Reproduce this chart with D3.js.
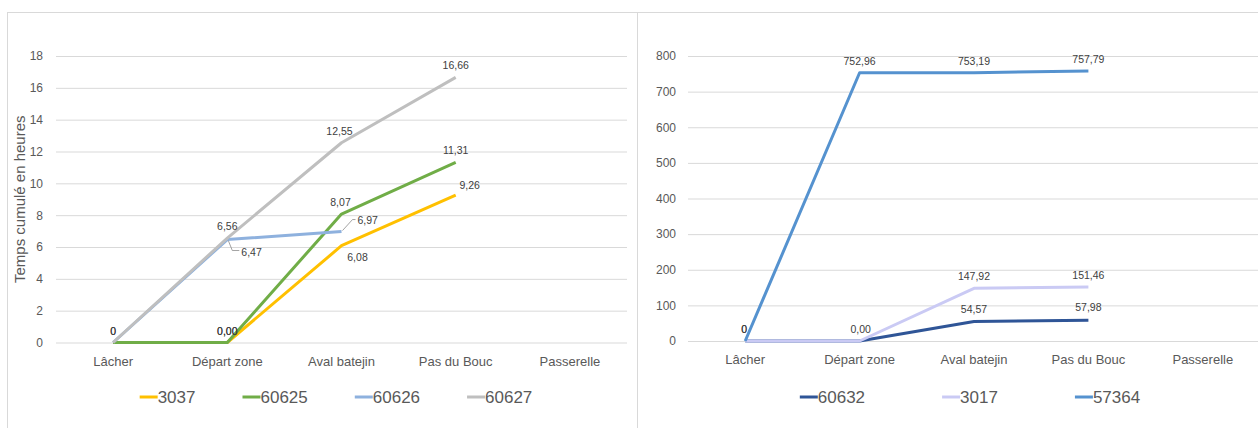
<!DOCTYPE html>
<html>
<head>
<meta charset="utf-8">
<script src="https://cdn.jsdelivr.net/npm/d3@7"></script>
<style>
  html, body { margin: 0; padding: 0; background: #fff; }
  svg { display: block; font-family: "Liberation Sans", "DejaVu Sans", sans-serif; }
</style>
</head>
<body>
<svg id="chart" width="1258" height="428"></svg>
<script>
// ---- data ----
const categories = ["Lâcher", "Départ zone", "Aval batejin", "Pas du Bouc", "Passerelle"];

// left panel: cumulated time (hours)
const leftTicks = [0, 2, 4, 6, 8, 10, 12, 14, 16, 18];
const s3037  = [0, 0, 6.08, 9.26, null];
const s60625 = [0, 0, 8.07, 11.31, null];
const s60626 = [0, 6.47, 6.97, null, null];
const s60627 = [0, 6.56, 12.55, 16.66, null];

// right panel
const rightTicks = [0, 100, 200, 300, 400, 500, 600, 700, 800];
const s60632 = [0, 0, 54.57, 57.98, null];
const s3017  = [0, 0, 147.92, 151.46, null];
const s57364 = [0, 752.96, 753.19, 757.79, null];

const leftSeries = [
  { name: "3037",  values: s3037,  color: "#FFC000" },
  { name: "60625", values: s60625, color: "#70AD47" },
  { name: "60626", values: s60626, color: "#8EB1DE" },
  { name: "60627", values: s60627, color: "#BFBFBF" }
];
const rightSeries = [
  { name: "60632", values: s60632, color: "#2F5597" },
  { name: "3017",  values: s3017,  color: "#CACAF4" },
  { name: "57364", values: s57364, color: "#5592CF" }
];

// which points carry a value label, and where the label sits relative to the point
const leftLabels = [
  { s: "60626", i: 0, fmt: "int", dx: 0, dy: -12 },
  { s: "60627", i: 0, fmt: "int", dx: 0, dy: -12 },
  { s: "3037",  i: 1, fmt: "dec", dx: 0, dy: -12 },
  { s: "60625", i: 1, fmt: "dec", dx: 0, dy: -12 },
  { s: "60627", i: 1, fmt: "dec", dx: 0, dy: -12 },
  { s: "60626", i: 1, fmt: "dec", dx: 14, dy: 12, anchor: "start",
    leader: [[1, 1], [5, 11], [12, 11]] },
  { s: "60627", i: 2, fmt: "dec", dx: -2, dy: -12 },
  { s: "60625", i: 2, fmt: "dec", dx: -1, dy: -12 },
  { s: "60626", i: 2, fmt: "dec", dx: 16, dy: -12, anchor: "start",
    leader: [[1, -1], [11, -12], [14, -12]] },
  { s: "3037",  i: 2, fmt: "dec", dx: 16, dy: 11 },
  { s: "60627", i: 3, fmt: "dec", dx: 0, dy: -12 },
  { s: "60625", i: 3, fmt: "dec", dx: 0, dy: -12 },
  { s: "3037",  i: 3, fmt: "dec", dx: 14, dy: -10 }
];
const rightLabels = [
  { s: "57364", i: 0, fmt: "int", dx: -1, dy: -12 },
  { s: "3017",  i: 0, fmt: "int", dx: -1, dy: -12 },
  { s: "3017",  i: 1, fmt: "dec", dx: 1, dy: -12 },
  { s: "57364", i: 1, fmt: "dec", dx: 0, dy: -12 },
  { s: "57364", i: 2, fmt: "dec", dx: 0, dy: -12 },
  { s: "57364", i: 3, fmt: "dec", dx: 0, dy: -12 },
  { s: "3017",  i: 2, fmt: "dec", dx: 0, dy: -12 },
  { s: "3017",  i: 3, fmt: "dec", dx: 0, dy: -12 },
  { s: "60632", i: 2, fmt: "dec", dx: 0, dy: -13 },
  { s: "60632", i: 3, fmt: "dec", dx: 0, dy: -13 }
];

// ---- drawing ----
const svg = d3.select("#chart");
const frFormat = v => d3.format(".2f")(v).replace(".", ",");

// panel frames
svg.append("rect").attr("x", 7.5).attr("y", 12.5).attr("width", 630).attr("height", 440)
  .attr("fill", "none").attr("stroke", "#D9D9D9");
svg.append("rect").attr("x", 637.5).attr("y", 12.5).attr("width", 640).attr("height", 440)
  .attr("fill", "none").attr("stroke", "#D9D9D9");

function drawPanel(opt) {
  const g = svg.append("g");
  const x = d3.scaleBand().domain(categories).range([opt.left, opt.right]).padding(0);
  const cx = c => x(c) + x.bandwidth() / 2;
  const y = d3.scaleLinear().domain([0, d3.max(opt.ticks)]).range([opt.bottom, opt.top]);

  // gridlines
  g.append("g")
    .attr("transform", `translate(${opt.left},0)`)
    .call(d3.axisLeft(y).tickValues(opt.ticks).tickSize(-(opt.right - opt.left)).tickFormat(""))
    .call(a => a.select(".domain").remove())
    .call(a => a.selectAll("line").attr("stroke", "#D9D9D9").attr("stroke-width", 1));

  // y tick labels
  g.append("g")
    .attr("transform", `translate(${opt.tickX},0)`)
    .call(d3.axisLeft(y).tickValues(opt.ticks).tickSize(0).tickPadding(0))
    .call(a => a.select(".domain").remove())
    .call(a => a.selectAll("text").attr("fill", "#595959")
      .style("font-size", "12px").style("font-family", "Liberation Sans, sans-serif"));

  // category labels
  g.append("g")
    .attr("transform", `translate(0,${opt.bottom})`)
    .call(d3.axisBottom(x).tickSize(0).tickPadding(14))
    .call(a => a.select(".domain").remove())
    .call(a => a.selectAll("text").attr("fill", "#595959")
      .style("font-size", "13px").style("font-family", "Liberation Sans, sans-serif"));

  // lines
  const line = d3.line()
    .defined(d => d.v !== null)
    .x(d => cx(d.c))
    .y(d => y(d.v));
  opt.series.forEach(s => {
    g.append("path")
      .datum(s.values.map((v, i) => ({ c: categories[i], v })))
      .attr("fill", "none")
      .attr("stroke", s.color)
      .attr("stroke-width", 3)
      .attr("stroke-linejoin", "round")
      .attr("d", line);
  });

  // value labels
  const byName = new Map(opt.series.map(s => [s.name, s]));
  opt.labels.forEach(l => {
    const v = byName.get(l.s).values[l.i];
    const px = cx(categories[l.i]);
    const py = y(v);
    if (l.leader) {
      g.append("path")
        .attr("d", d3.line()(l.leader.map(p => [px + p[0], py + p[1]])))
        .attr("fill", "none").attr("stroke", "#8C8C8C").attr("stroke-width", 0.8);
    }
    g.append("text")
      .attr("x", px + l.dx)
      .attr("y", py + l.dy)
      .attr("text-anchor", l.anchor || "middle")
      .attr("dominant-baseline", "central")
      .attr("fill", "#404040")
      .style("font-size", "10.5px")
      .text(l.fmt === "int" ? d3.format("d")(v) : frFormat(v));
  });

  // axis title
  if (opt.title) {
    g.append("text")
      .attr("transform", `translate(${opt.titleX},${(opt.top + opt.bottom) / 2}) rotate(-90)`)
      .attr("text-anchor", "middle")
      .attr("dominant-baseline", "central")
      .attr("fill", "#595959")
      .style("font-size", "15px")
      .text(opt.title);
  }

  // legend
  const lg = g.append("g").attr("transform", `translate(0,${opt.legendY})`);
  let cursor = 0;
  opt.series.forEach(s => {
    const it = lg.append("g");
    it.append("line").attr("x1", 0).attr("x2", 18).attr("y1", 0).attr("y2", 0)
      .attr("stroke", s.color).attr("stroke-width", 3);
    const t = it.append("text").attr("x", 18).attr("y", 0)
      .attr("dominant-baseline", "central")
      .attr("fill", "#595959").style("font-size", "17px").text(s.name);
    const w = 18 + t.node().getComputedTextLength();
    it.attr("transform", `translate(${cursor},0)`);
    cursor += w + opt.legendGap;
  });
  const total = cursor - opt.legendGap;
  lg.attr("transform", `translate(${opt.legendCenter - total / 2},${opt.legendY})`);
}

drawPanel({
  left: 56, right: 627, top: 56, bottom: 342.5,
  ticks: leftTicks, tickX: 43,
  series: leftSeries, labels: leftLabels,
  title: "Temps cumulé en heures", titleX: 19,
  legendY: 397, legendGap: 47, legendCenter: 336
});

drawPanel({
  left: 688, right: 1260, top: 56, bottom: 341,
  ticks: rightTicks, tickX: 676,
  series: rightSeries, labels: rightLabels,
  legendY: 397, legendGap: 77, legendCenter: 970
});
</script>
</body>
</html>
